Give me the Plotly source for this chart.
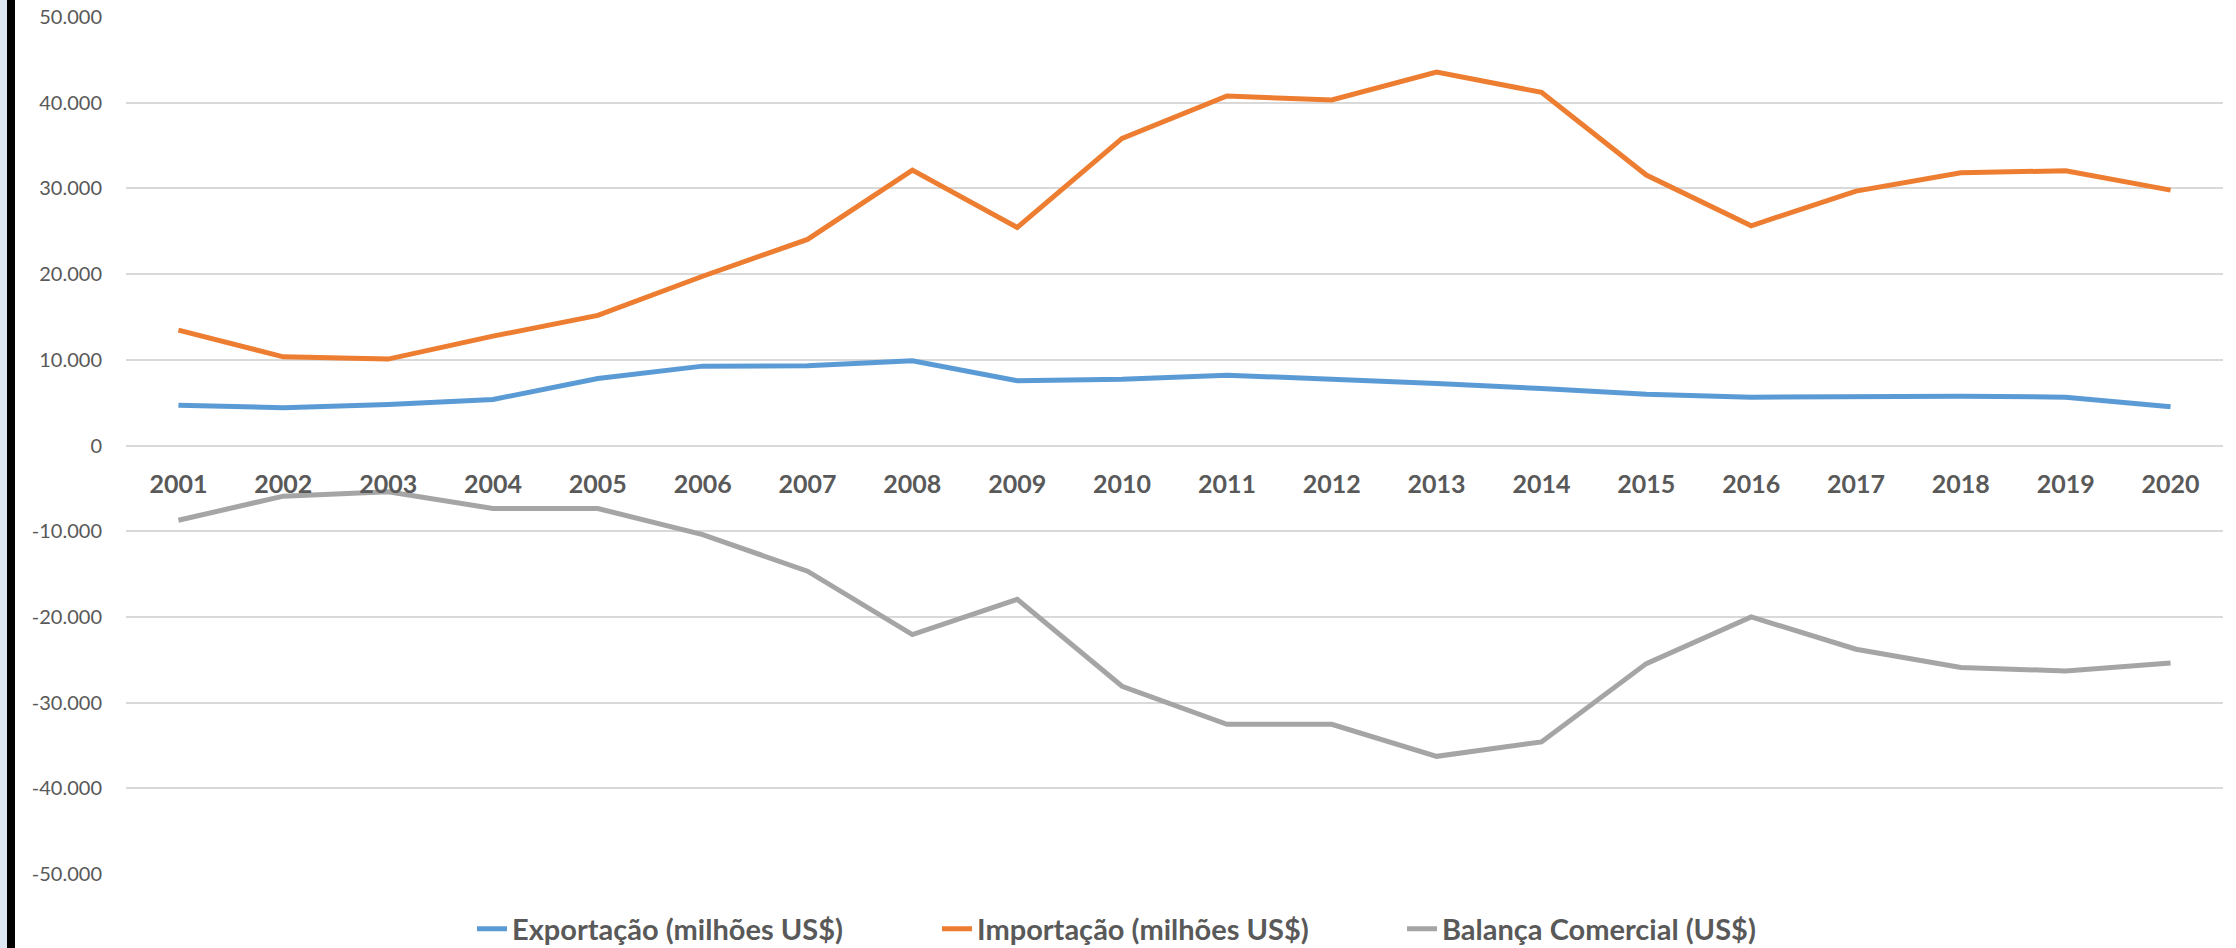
import plotly.graph_objects as go

years = [str(y) for y in range(2001, 2021)]
exportacao = [4700, 4400, 4790, 5370, 7820, 9260, 9300, 9880, 7550, 7740,
              8210, 7740, 7240, 6650, 5990, 5640, 5760, 5760, 5640, 4510]
importacao = [13460, 10350, 10080, 12760, 15180, 19750, 24050, 32140, 25450, 35840,
              40780, 40310, 43580, 41210, 31560, 25640, 29690, 31830, 32060, 29800]
balanca = [-8720, -5910, -5410, -7350, -7350, -10390, -14670, -22060, -17940, -28090,
           -32530, -32530, -36270, -34590, -25450, -20000, -23770, -25910, -26300, -25370]
series_names = ["Exportação (milhões US$)", "Importação (milhões US$)", "Balança Comercial (US$)"]
series_colors = ["#5B9BD5", "#ED7D31", "#A5A5A5"]
y_tick_values = [-50000, -40000, -30000, -20000, -10000, 0, 10000, 20000, 30000, 40000, 50000]
y_tick_labels = ["-50.000", "-40.000", "-30.000", "-20.000", "-10.000", "0",
                 "10.000", "20.000", "30.000", "40.000", "50.000"]

W, H = 2236, 948
ML, MR, MT, MB = 126, 13, 17, 74
pw, ph = W - ML - MR, H - MT - MB

fig = go.Figure()
for name, vals, col in zip(series_names, [exportacao, importacao, balanca], series_colors):
    fig.add_trace(go.Scatter(x=years, y=vals, mode="lines", name=name,
                             line=dict(color=col, width=5)))

def px2paper_x(px):
    return (px - ML) / pw

fig.update_layout(
    width=W, height=H,
    margin=dict(l=ML, r=MR, t=MT, b=MB, autoexpand=False),
    paper_bgcolor="white", plot_bgcolor="white",
    font=dict(family="Lato", color="#595959"),
    showlegend=True,
    legend=dict(orientation="h", xanchor="left", yanchor="middle",
                xref="container", yref="paper",
                x=472 / W, y=-(929 - 874) / ph,
                font=dict(family="Lato", size=29, color="#595959", weight="bold"),
                itemwidth=30, entrywidth=420, tracegroupgap=0,
                bgcolor="rgba(0,0,0,0)"),
    xaxis=dict(type="category", range=[-0.5, 19.5], anchor="free", position=0.5,
               showgrid=False, showline=False, ticks="", zeroline=False,
               automargin=False,
               tickfont=dict(family="Lato", size=25, color="#595959", weight="bold"),
               ticklabelstandoff=21, fixedrange=True),
    yaxis=dict(range=[-50000, 50000], tickvals=y_tick_values, ticktext=y_tick_labels,
               showgrid=True, gridcolor="#D9D9D9", gridwidth=1.5,
               zeroline=True, zerolinecolor="#D9D9D9", zerolinewidth=1.5,
               showline=False, ticks="", automargin=False, ticklabeloverflow="allow",
               tickfont=dict(family="Lato", size=20, color="#595959"),
               ticklabelstandoff=23, fixedrange=True),
    shapes=[
        dict(type="rect", xref="paper", yref="paper",
             x0=px2paper_x(0), x1=px2paper_x(7), y0=-MB / ph, y1=1 + MT / ph,
             fillcolor="#DDE8F4", line=dict(width=0), layer="above"),
        dict(type="rect", xref="paper", yref="paper",
             x0=px2paper_x(7), x1=px2paper_x(15), y0=-MB / ph, y1=1 + MT / ph,
             fillcolor="#000000", line=dict(width=0), layer="above"),
    ],
)

# remove the browser's default 8px body margin so the figure fills the window
fig.write_html("out.html", config={"displayModeBar": False},
               post_script="document.body.style.margin='0';")
